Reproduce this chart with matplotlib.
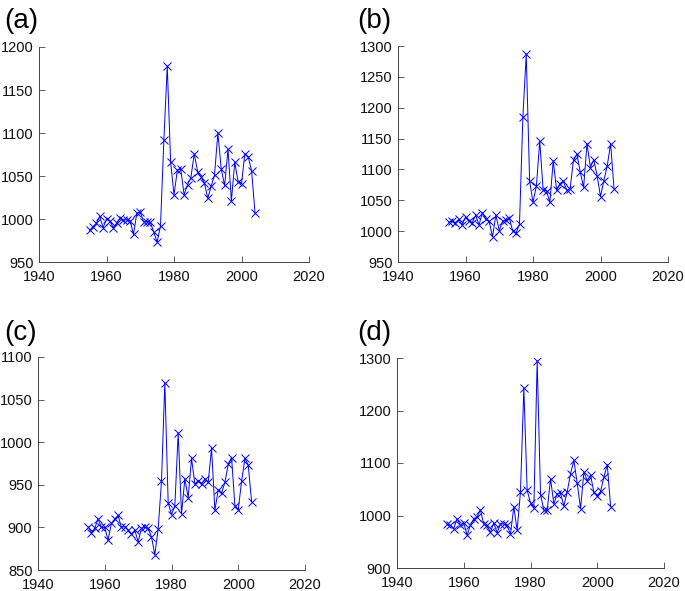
import matplotlib
matplotlib.use("Agg")
import matplotlib.pyplot as plt
import numpy as np

years = list(range(1955, 2005))

series_a = [987, 991, 995, 1003, 990, 1000, 998, 990, 995, 1001,
            999, 999, 998, 982, 1007, 1008, 997, 997, 996, 985,
            973, 992, 1092, 1178, 1066, 1028, 1057, 1058, 1028, 1040,
            1048, 1076, 1055, 1049, 1042, 1024, 1038, 1051, 1100, 1058,
            1039, 1081, 1021, 1066, 1043, 1041, 1076, 1072, 1056, 1007]

series_b = [1015, 1016, 1014, 1019, 1010, 1023, 1016, 1014, 1026, 1010,
            1030, 1019, 1016, 991, 1026, 1001, 1016, 1018, 1021, 1000,
            997, 1012, 1185, 1287, 1081, 1047, 1073, 1146, 1067, 1065,
            1047, 1114, 1066, 1077, 1081, 1066, 1069, 1115, 1125, 1096,
            1071, 1142, 1103, 1116, 1090, 1056, 1082, 1106, 1142, 1069]

series_c = [901, 894, 899, 910, 900, 900, 885, 905, 910, 914,
            900, 901, 897, 892, 897, 883, 899, 900, 899, 889,
            868, 898, 954, 1070, 929, 915, 925, 1011, 916, 957,
            935, 981, 951, 955, 951, 957, 953, 993, 920, 944,
            940, 953, 974, 982, 925, 921, 954, 981, 973, 930]

series_d = [983, 981, 975, 994, 981, 986, 963, 981, 994, 997,
            1011, 983, 981, 968, 986, 967, 984, 984, 981, 965,
            1016, 972, 1045, 1243, 1048, 1024, 1014, 1295, 1040, 1010,
            1010, 1070, 1022, 1041, 1043, 1018, 1045, 1080, 1105, 1061,
            1013, 1083, 1066, 1077, 1044, 1038, 1046, 1073, 1097, 1017]

labels = ["(a)", "(b)", "(c)", "(d)"]
ylims = [(950, 1200), (950, 1300), (850, 1100), (900, 1300)]
ysteps = [50, 50, 50, 100]
xticks = [1940, 1960, 1980, 2000, 2020]

W, H = 685, 591
fig = plt.figure(figsize=(W / 100, H / 100), dpi=100)
plt.rcParams['font.family'] = ['Liberation Sans', 'DejaVu Sans']

# axes boxes in pixels: left, top, right, bottom
boxes = [(39, 47, 309, 262), (398, 46, 668, 262),
         (38, 357, 305, 570), (397, 358, 664, 568)]
label_pos = [(4, 28), (357, 28), (4, 340), (357, 340)]
data = [series_a, series_b, series_c, series_d]

for i in range(4):
    l, t, r, b = boxes[i]
    ax = fig.add_axes([l / W, 1 - b / H, (r - l) / W, (b - t) / H])
    ax.plot(years, data[i], color=(0, 0, 1), lw=0.7, marker='x',
            markersize=5.5, markeredgewidth=0.7)
    ax.set_xlim(1940, 2020)
    ax.set_ylim(*ylims[i])
    ax.set_xticks(xticks)
    lo, hi = ylims[i]
    ax.set_yticks(np.arange(lo, hi + 1, ysteps[i]))
    for s in ['top', 'right']:
        ax.spines[s].set_visible(False)
    for s in ['left', 'bottom']:
        ax.spines[s].set_color('#444444')
        ax.spines[s].set_linewidth(0.7)
    ax.tick_params(direction='in', length=4, width=0.6, colors='#444444',
                   labelcolor='#111111', labelsize=10.5)
    ax.tick_params(axis='x', pad=6)
    ax.tick_params(axis='y', pad=4)
    fig.text(label_pos[i][0] / W, 1 - label_pos[i][1] / H, labels[i],
             fontsize=20, ha='left', va='baseline')

fig.savefig("out.png", dpi=100)
